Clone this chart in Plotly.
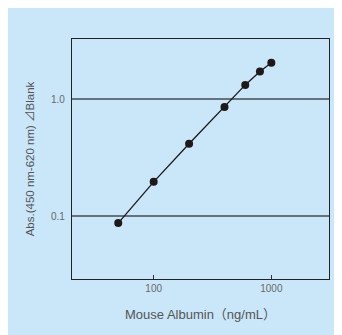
import plotly.graph_objects as go

conc = [50, 100, 200, 400, 600, 800, 1000]
absorbance = [0.087, 0.196, 0.415, 0.855, 1.32, 1.72, 2.04]

x_ticks = [100, 1000]
x_tick_labels = ["100", "1000"]
y_ticks = [0.1, 1.0]
y_tick_labels = ["0.1", "1.0"]

BLUE = "#c9e7f8"
FONT = "Liberation Sans, Arial, Noto Sans CJK JP"

fig = go.Figure()
fig.add_trace(go.Scatter(
    x=conc, y=absorbance, mode="lines+markers",
    line=dict(color="#1e1818", width=1.3),
    marker=dict(color="#1e1818", size=8),
    showlegend=False,
))

# page has an 8px body margin, so the figure is 334x327 and offset by 8px
W, H = 334, 327
L, R, T, B = 64, 13, 31, 56

fig.update_layout(
    width=W, height=H,
    margin=dict(l=L, r=R, t=T, b=B),
    paper_bgcolor=BLUE,
    plot_bgcolor=BLUE,
    font=dict(family=FONT, color="#555555"),
    xaxis=dict(
        type="log", range=[1.306, 3.49],
        tickvals=x_ticks, ticktext=x_tick_labels,
        ticks="inside", ticklen=4, tickcolor="#333333", tickwidth=1,
        showgrid=False, zeroline=False,
        showline=True, mirror=True, linecolor="#222222", linewidth=1.2,
        tickfont=dict(size=10, color="#6a6a6a"),
        title=dict(text="Mouse Albumin（ng/mL）", font=dict(size=13, color="#555555"), standoff=16),
    ),
    yaxis=dict(
        type="log", range=[-1.538, 0.513],
        tickvals=y_ticks, ticktext=y_tick_labels,
        ticks="outside", ticklen=4, tickcolor="rgba(0,0,0,0)",
        showgrid=True, gridcolor="#66727c", gridwidth=1.5,
        zeroline=False,
        showline=True, mirror=True, linecolor="#222222", linewidth=1.2,
        tickfont=dict(size=10, color="#6a6a6a"),
        title=dict(text="Abs.(450 nm-620 nm) ⊿Blank", font=dict(size=11.5, color="#555555"), standoff=13),
    ),
)

fig.write_html("out.html")
